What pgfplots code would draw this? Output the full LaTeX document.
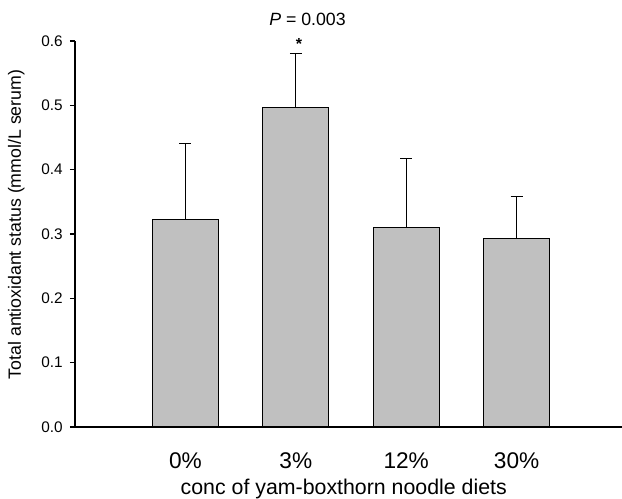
\documentclass[border=0pt]{standalone}
\usepackage{pgfplots}
\pgfplotsset{compat=1.18}
\usepackage{fontspec}
\setmainfont{Liberation Sans}
\newlength\px
\setlength\px{0.75pt}
\definecolor{bargray}{RGB}{192,192,192}
\begin{document}
\begin{tikzpicture}
\begin{axis}[
  scale only axis,
  width=546.5\px, height=386\px,
  xmin=0, xmax=4.95,
  ymin=0, ymax=0.6,
  axis lines*=left,
  axis line style={line width=1pt},
  xtick={1,2,3,4},
  xticklabels={0\%,3\%,12\%,30\%},
  xtick style={draw=none},
  ytick={0,0.1,0.2,0.3,0.4,0.5,0.6},
  ytick pos=left,
  tick align=outside,
  major tick length=5\px,
  ytick style={line width=0.8pt, black},
  yticklabel={\pgfmathprintnumber[fixed,fixed zerofill,precision=1]{\tick}},
  /pgf/number format/assume math mode=true,
  yticklabel style={font=\fontsize{11.5}{13}\selectfont, anchor=east, inner sep=0pt, xshift=-7\px},
  xticklabel style={font=\fontsize{17}{19}\selectfont, anchor=base, inner sep=0pt},
  every x tick label/.append style={yshift=-37\px},
  ylabel={Total antioxidant status (mmol/L serum)},
  ylabel style={font=\fontsize{13.3}{15}\selectfont, at={(axis description cs:-0.0989,0.5246)}, anchor=base, rotate=0},
  xlabel={conc of yam-boxthorn noodle diets},
  xlabel style={font=\fontsize{16}{18}\selectfont, at={(axis description cs:0.4918,-0.1736)}, anchor=base},
  clip=false,
  bar width=0.6,
]
\addplot[ybar, fill=bargray, draw=black, line width=0.8pt,
  error bars/.cd, y dir=plus, y explicit,
  error bar style={line width=0.8pt, black},
  error mark options={mark size=6\px, line width=0.8pt, black, rotate=90}]
  table[x=x, y=y, y error=e] {
x y e
1 0.323 0.117
2 0.497 0.084
3 0.310 0.107
4 0.293 0.066
};
\node[anchor=base, font=\fontsize{13.3}{15}\selectfont] at (axis description cs:0.4254,1.0389) {\textit{P} = 0.003};
\node[anchor=base, font=\bfseries\fontsize{12}{14}\selectfont] at (axis description cs:0.41,0.9767) {*};
\end{axis}
\pgfresetboundingbox
\path[use as bounding box] (-75\px,-72\px) rectangle (547\px,427\px);
\end{tikzpicture}
\end{document}
